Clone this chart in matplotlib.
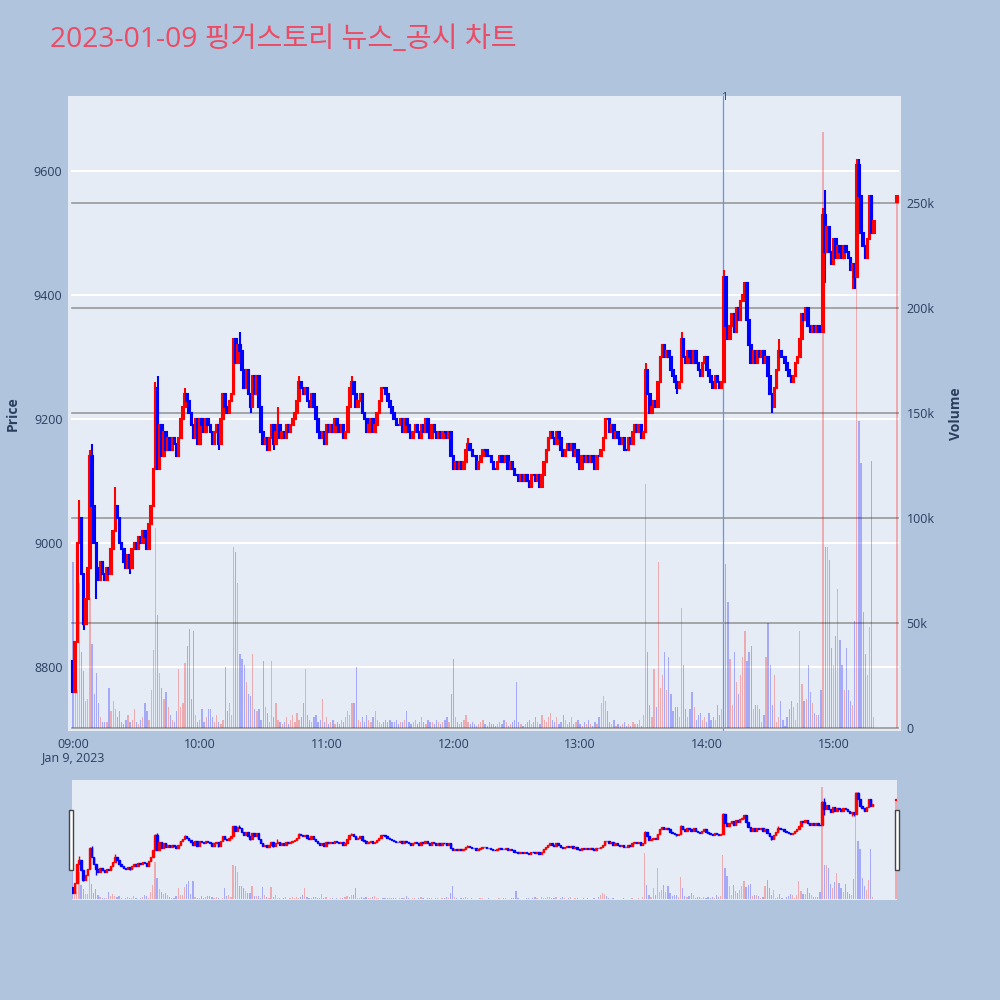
# 2023-01-09 핑거스토리 1-minute candles with volume and range slider

import numpy as np
import matplotlib.pyplot as plt
from matplotlib.patches import Rectangle

plt.rcParams['font.family'] = ['Open Sans', 'Noto Sans CJK KR', 'DejaVu Sans']

# ---- data (minute index 0 = 09:00) ----
first_open = 8810
closes = [
    8760, 8840, 9000, 9040, 8950, 8870, 8910, 8960, 9140, 9060,
    9000, 8960, 8940, 8970, 8950, 8940, 8960, 8950, 8990, 9020,
    9060, 9040, 9000, 8990, 8970, 8960, 8980, 8960, 8990, 9000,
    8990, 9010, 9000, 9020, 9010, 8990, 9030, 9060, 9120, 9250,
    9120, 9190, 9140, 9180, 9150, 9170, 9150, 9170, 9160, 9140,
    9170, 9200, 9220, 9240, 9230, 9210, 9190, 9170, 9200, 9160,
    9200, 9190, 9180, 9200, 9190, 9180, 9160, 9180, 9190, 9160,
    9200, 9240, 9220, 9210, 9230, 9240, 9330, 9290, 9320, 9310,
    9280, 9250, 9280, 9240, 9220, 9270, 9240, 9270, 9220, 9180,
    9160, 9170, 9150, 9170, 9190, 9160, 9180, 9190, 9170, 9180,
    9170, 9190, 9180, 9190, 9200, 9210, 9230, 9260, 9250, 9240,
    9250, 9230, 9220, 9240, 9220, 9200, 9180, 9170, 9180, 9160,
    9190, 9180, 9190, 9180, 9200, 9190, 9180, 9190, 9170, 9180,
    9220, 9250, 9260, 9240, 9220, 9230, 9240, 9210, 9200, 9180,
    9190, 9200, 9180, 9190, 9210, 9230, 9250, 9250, 9240, 9230,
    9220, 9210, 9200, 9190, 9190, 9200, 9180, 9200, 9190, 9180,
    9170, 9180, 9190, 9180, 9170, 9190, 9180, 9200, 9180, 9170,
    9190, 9180, 9170, 9180, 9170, 9180, 9180, 9170, 9180, 9140,
    9120, 9130, 9120, 9130, 9120, 9130, 9150, 9160, 9150, 9140,
    9140, 9120, 9130, 9140, 9150, 9150, 9140, 9140, 9130, 9120,
    9120, 9130, 9140, 9130, 9130, 9140, 9120, 9130, 9120, 9110,
    9110, 9100, 9110, 9100, 9110, 9100, 9090, 9110, 9110, 9100,
    9110, 9090, 9110, 9130, 9150, 9170, 9180, 9170, 9160, 9180,
    9170, 9150, 9140, 9150, 9160, 9150, 9160, 9140, 9150, 9130,
    9120, 9140, 9130, 9140, 9130, 9140, 9130, 9120, 9140, 9140,
    9150, 9170, 9200, 9200, 9180, 9190, 9170, 9180, 9170, 9160,
    9170, 9150, 9150, 9170, 9160, 9180, 9190, 9180, 9190, 9170,
    9180, 9280, 9240, 9210, 9220, 9230, 9220, 9260, 9300, 9320,
    9300, 9310, 9300, 9280, 9270, 9260, 9250, 9260, 9330, 9300,
    9290, 9310, 9300, 9290, 9310, 9290, 9280, 9270, 9290, 9300,
    9280, 9270, 9260, 9250, 9270, 9260, 9250, 9260, 9430, 9350,
    9330, 9350, 9370, 9340, 9380, 9360, 9390, 9400, 9420, 9360,
    9320, 9290, 9310, 9290, 9310, 9300, 9310, 9290, 9300, 9270,
    9240, 9220, 9250, 9280, 9310, 9300, 9300, 9290, 9280, 9270,
    9260, 9270, 9290, 9300, 9330, 9370, 9360, 9380, 9350, 9340,
    9350, 9340, 9350, 9340, 9340, 9530, 9470, 9510, 9470, 9450,
    9490, 9460, 9480, 9470, 9460, 9480, 9470, 9460, 9440, 9450,
    9430, 9610, 9560, 9500, 9480, 9460, 9490, 9560, 9500, 9520,
]
volumes_k = [
    79, 40, 18, 69, 36, 27, 13, 14, 62, 40,
    16, 26, 12, 5, 3, 3, 3, 19, 8, 13,
    9, 5, 8, 3, 2, 4, 6, 3, 4, 9,
    3, 2, 4, 5, 12, 8, 4, 18, 37, 95,
    54, 26, 19, 14, 17, 10, 6, 4, 3, 8,
    28, 10, 12, 31, 39, 47, 14, 46, 6, 3,
    4, 9, 3, 5, 9, 9, 5, 3, 6, 3,
    2, 4, 29, 8, 12, 6, 86, 84, 69, 35,
    33, 30, 22, 16, 15, 35, 9, 8, 9, 4,
    32, 10, 7, 3, 32, 5, 12, 4, 3, 2,
    3, 5, 2, 4, 6, 3, 7, 4, 5, 12,
    28, 6, 4, 3, 5, 6, 3, 4, 14, 3,
    5, 2, 3, 4, 2, 3, 2, 4, 3, 5,
    8, 6, 12, 12, 29, 4, 3, 5, 3, 6,
    4, 3, 5, 8, 4, 3, 2, 3, 4, 3,
    4, 3, 3, 4, 2, 3, 3, 4, 8, 3,
    2, 3, 4, 2, 3, 5, 3, 2, 4, 3,
    3, 2, 4, 3, 2, 3, 4, 5, 3, 16,
    33, 5, 3, 2, 3, 4, 6, 3, 2, 3,
    2, 1, 2, 3, 4, 2, 1, 3, 2, 2,
    1, 2, 3, 2, 4, 3, 1, 2, 3, 4,
    22, 3, 2, 1, 2, 3, 4, 2, 3, 5,
    3, 2, 6, 4, 3, 5, 7, 4, 3, 5,
    2, 3, 6, 4, 2, 3, 5, 2, 3, 4,
    2, 1, 3, 2, 4, 2, 1, 3, 2, 5,
    12, 15, 13, 8, 3, 2, 4, 1, 2, 1,
    2, 3, 1, 2, 1, 3, 2, 2, 4, 1,
    6, 116, 36, 11, 5, 28, 10, 79, 19, 25,
    36, 18, 34, 16, 8, 10, 10, 5, 57, 30,
    9, 5, 9, 17, 10, 4, 6, 7, 4, 5,
    3, 7, 4, 5, 4, 11, 6, 9, 113, 78,
    60, 33, 11, 36, 22, 16, 25, 34, 46, 32,
    36, 39, 9, 11, 11, 9, 3, 6, 34, 50,
    30, 11, 25, 3, 5, 13, 4, 1, 5, 9,
    13, 10, 4, 12, 46, 21, 13, 14, 30, 17,
    12, 7, 6, 6, 18, 284, 86, 86, 80, 38,
    30, 44, 66, 42, 30, 18, 38, 18, 13, 11,
    51, 270, 146, 126, 55, 35, 25, 48, 127, 5,
]
# wicks that go beyond the candle body
hi_idx = [3, 8, 9, 20, 39, 40, 53, 79, 97, 107, 132, 187, 271, 288, 308, 334, 355, 356, 371, 372]
hi_val = [9070, 9150, 9160, 9090, 9260, 9270, 9250, 9340, 9220, 9270, 9270, 9170, 9290, 9340, 9440, 9330, 9540, 9570, 9620, 9620]
lo_idx = [5, 11, 27, 69, 84, 95, 286, 331, 340, 356, 369, 370]
lo_val = [8860, 8910, 8950, 9150, 9210, 9150, 9240, 9210, 9260, 9420, 9410, 9410]

# 15:30 closing auction
auction_min = 390
auction_open = 9550
auction_close = 9560
auction_vol_k = 250

news_min = 307.5
news_label = '1'

title = '2023-01-09 핑거스토리 뉴스_공시 차트'
tick_minutes = [0, 60, 120, 180, 240, 300, 360]
tick_labels = ['09:00', '10:00', '11:00', '12:00', '13:00', '14:00', '15:00']
price_ticks = [8800, 9000, 9200, 9400, 9600]
vol_ticks = [0, 50000, 100000, 150000, 200000, 250000]
vol_tick_labels = ['0', '50k', '100k', '150k', '200k', '250k']

# ---- build ohlc ----
closes_all = np.array(closes + [auction_close], dtype=float)
opens_all = np.array([first_open] + closes[:-1] + [auction_open], dtype=float)
minutes = np.append(np.arange(len(closes)), auction_min).astype(float)
vols = np.array(volumes_k + [auction_vol_k], dtype=float) * 1000
highs = np.maximum(opens_all, closes_all)
lows = np.minimum(opens_all, closes_all)
for i, v in zip(hi_idx, hi_val):
    highs[i] = max(highs[i], v)
for i, v in zip(lo_idx, lo_val):
    lows[i] = min(lows[i], v)
up = closes_all > opens_all

RED = '#FF0000'
BLUE = '#0000FF'
colors = np.where(up, RED, BLUE)

PRICE_LIM = (8696.8, 9721.3)
VOL_LIM = (-1430, 300950)
TXT = '#2a3f5f'
BG = '#B0C4DE'
PLOT_BG = '#E5ECF6'


def price_to_vol(p):
    return VOL_LIM[0] + (p - PRICE_LIM[0]) / (PRICE_LIM[1] - PRICE_LIM[0]) * (VOL_LIM[1] - VOL_LIM[0])


def draw_candles(ax, body_w, lw):
    ax.vlines(minutes, lows, highs, colors=colors, linewidth=lw, zorder=3)
    ax.bar(minutes, np.abs(closes_all - opens_all), bottom=np.minimum(opens_all, closes_all),
           width=body_w, color=colors, edgecolor=colors, linewidth=lw, zorder=3)


fig = plt.figure(figsize=(10, 10), dpi=100, facecolor=BG)
fig.text(0.05, 1 - 0.040, title, fontsize=20.3, color='#EB4B64', va='center', ha='left')

# ---- main chart ----
ax_v = fig.add_axes([0.068, 1 - 0.731, 0.833, 0.635])
ax_v.set_facecolor(PLOT_BG)
ax_p = ax_v.twinx()

x0, x1 = -0.4, 390.4
for p in price_ticks:
    ax_v.plot([x0, x1], [price_to_vol(p)] * 2, color='white', lw=1.4, zorder=0.5)
for v in vol_ticks:
    ax_v.plot([x0, x1], [v, v], color='#999999', lw=1.2, zorder=0.6)

ax_v.bar(minutes, vols, width=0.6, color=colors, alpha=0.28, linewidth=0, zorder=1)
ax_v.axvline(news_min, color='#6f8ff2', lw=0.9, zorder=1.5)
draw_candles(ax_p, 0.75, 1.5)

ax_v.set_xlim(-2.4, 391.9)
ax_v.set_ylim(*VOL_LIM)
ax_p.set_ylim(*PRICE_LIM)

ax_v.yaxis.tick_right()
ax_v.yaxis.set_label_position('right')
ax_p.yaxis.tick_left()
ax_p.yaxis.set_label_position('left')
ax_v.set_yticks(vol_ticks)
ax_v.set_yticklabels(vol_tick_labels)
ax_p.set_yticks(price_ticks)
ax_p.set_yticklabels([str(p) for p in price_ticks])
ax_v.set_xticks(tick_minutes)
ax_v.set_xticklabels(tick_labels)
for a in (ax_v, ax_p):
    a.tick_params(length=0, labelsize=9, labelcolor=TXT, pad=4)
    for s in a.spines.values():
        s.set_visible(False)
ax_v.tick_params(axis='x', pad=5)
ax_p.set_ylabel('Price', fontsize=10, fontweight='bold', color=TXT, labelpad=10)
ax_v.set_ylabel('Volume', fontsize=10, fontweight='bold', color=TXT, labelpad=10)

fig.text(0.073, 1 - 0.758, 'Jan 9, 2023', fontsize=9, color=TXT, ha='center', va='center')
fig.text(0.724, 1 - 0.097, news_label, fontsize=8, color='#444444', ha='center', va='center')

# ---- range slider ----
rs_v = fig.add_axes([0.072, 0.100, 0.825, 0.120])
rs_v.set_facecolor(PLOT_BG)
rs_p = rs_v.twinx()
rs_v.bar(minutes, vols, width=0.6, color=colors, alpha=0.28, linewidth=0, zorder=1)
draw_candles(rs_p, 0.7, 1.0)
rs_v.set_xlim(-0.3, 390.5)
rs_v.set_ylim(*VOL_LIM)
rs_p.set_ylim(*PRICE_LIM)
for a in (rs_v, rs_p):
    a.set_xticks([])
    a.set_yticks([])
    for s in a.spines.values():
        s.set_visible(False)

for hx in (0.0693, 0.8953):
    fig.patches.append(Rectangle((hx, 1 - 0.870), 0.004, 0.060, transform=fig.transFigure,
                                 facecolor='white', edgecolor='#444444', linewidth=1))

fig.savefig('out.png', dpi=100, facecolor=BG)
